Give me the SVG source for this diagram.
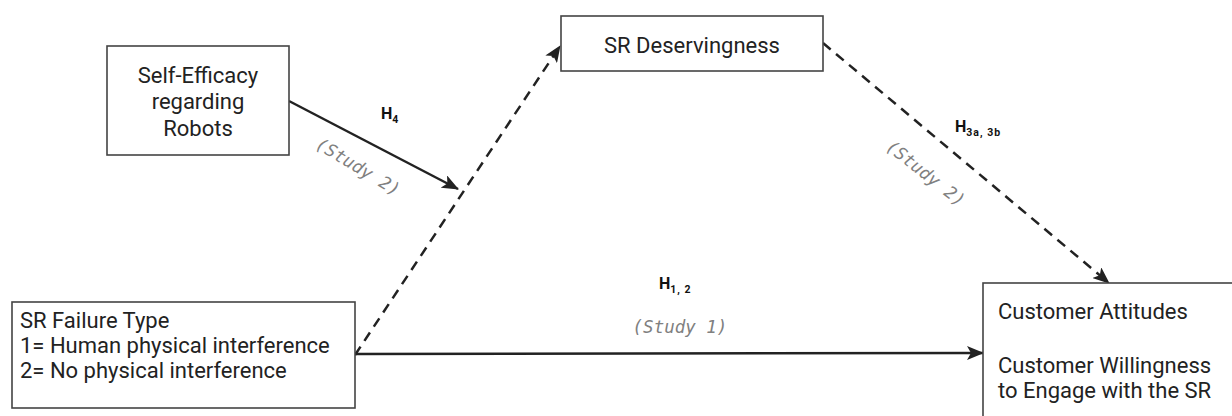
<svg xmlns="http://www.w3.org/2000/svg" width="1232" height="416" viewBox="0 0 1232 416">
<defs>
<marker id="ah" markerUnits="userSpaceOnUse" markerWidth="18" markerHeight="14" refX="16" refY="7" orient="auto">
<path d="M0,0 L17,7 L0,14 L4,7 Z" fill="#222"/>
</marker>
</defs>
<style>
.box{fill:#fff;stroke:#444;stroke-width:1.6}
.t{font-family:Roboto,"Liberation Sans",sans-serif;font-size:22px;fill:#222}
.h{font-family:Roboto,"Liberation Sans",sans-serif;font-weight:bold;font-size:16px;fill:#111}
.hs{font-size:10.5px;letter-spacing:1px}
.st{font-family:"DejaVu Sans Mono","Liberation Mono",monospace;font-style:italic;font-size:17.5px;fill:#808080}
.c{fill:none;stroke:#222;stroke-width:2.5}
.d{stroke-dasharray:10 7}
</style>
<rect width="1232" height="416" fill="#fff"/>
<g id="connectors">
<line class="c" x1="289" y1="101" x2="458" y2="189" marker-end="url(#ah)"/>
<line class="c d" x1="355" y1="355" x2="560" y2="46" marker-end="url(#ah)"/>
<line class="c d" x1="823" y1="43" x2="1109" y2="283" marker-end="url(#ah)"/>
<line class="c" x1="355" y1="354" x2="983" y2="353" marker-end="url(#ah)"/>
</g>
<g id="labels">
<text class="h" x="381" y="119">H<tspan class="hs" dy="4">4</tspan></text>
<text class="st" transform="translate(355,172) rotate(31)" text-anchor="middle">(Study 2)</text>
<text class="h" x="955" y="132">H<tspan class="hs" dy="4">3a, 3b</tspan></text>
<text class="st" transform="translate(922,178) rotate(38)" text-anchor="middle">(Study 2)</text>
<text class="h" x="659" y="289">H<tspan class="hs" dy="4">1, 2</tspan></text>
<text class="st" x="680" y="333" text-anchor="middle">(Study 1)</text>
</g>
<g id="self-efficacy">
<rect class="box" x="107" y="46" width="182" height="109"/>
<text class="t" x="198" y="83" text-anchor="middle">Self-Efficacy</text>
<text class="t" x="198" y="109" text-anchor="middle">regarding</text>
<text class="t" x="198" y="136" text-anchor="middle">Robots</text>
</g>
<g id="sr-deservingness">
<rect class="box" x="561" y="16" width="262" height="55"/>
<text class="t" x="692" y="53" text-anchor="middle">SR Deservingness</text>
</g>
<g id="sr-failure-type">
<rect class="box" x="12" y="302" width="343" height="106"/>
<text class="t" x="20" y="328">SR Failure Type</text>
<text class="t" x="20" y="353">1= Human physical interference</text>
<text class="t" x="20" y="378">2= No physical interference</text>
</g>
<g id="customer-outcomes">
<rect class="box" x="983" y="283" width="260" height="140"/>
<text class="t" x="998" y="319">Customer Attitudes</text>
<text class="t" x="998" y="373">Customer Willingness</text>
<text class="t" x="998" y="398">to Engage with the SR</text>
</g>
</svg>
